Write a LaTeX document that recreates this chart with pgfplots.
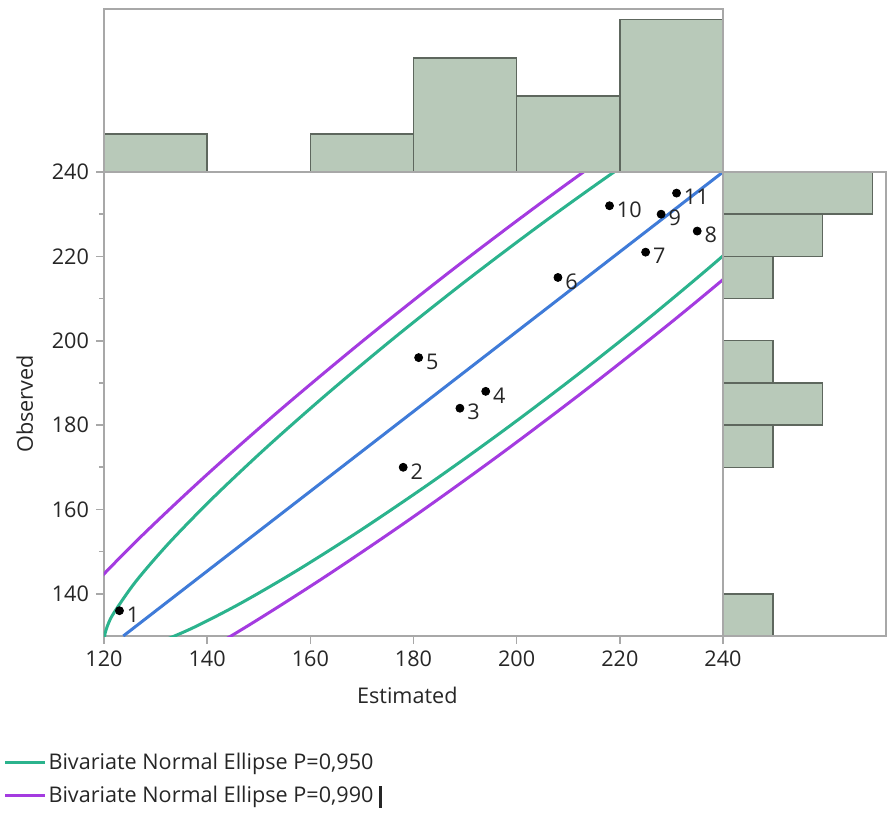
\documentclass[border=0pt]{standalone}
\usepackage{fontspec}
\setmainfont{Open Sans}
\usepackage{pgfplots}
\pgfplotsset{compat=1.18}

\definecolor{framegray}{HTML}{A8A8A8}
\definecolor{histfill}{HTML}{B8C9B9}
\definecolor{histedge}{HTML}{5E675E}
\definecolor{ell95}{HTML}{2BB38D}
\definecolor{ell99}{HTML}{A43BE0}
\definecolor{fitblue}{HTML}{3F7BD8}
\definecolor{txt}{HTML}{262626}

\newcommand{\chartfont}{\fontsize{10.8}{13}\selectfont}

\pgfplotsset{
  panel/.style={
    scale only axis, enlargelimits=false,
    axis line style={framegray, line width=0.8pt},
  },
}

% observed vs estimated
\pgfplotstableread{
x      y    lab
123    136  1
178    170  2
189    184  3
194    188  4
181    196  5
208    215  6
225    221  7
235    226  8
228    230  9
218    232  10
231    235  11
}\pts

\begin{document}
\begin{tikzpicture}[font=\chartfont]
\useasboundingbox (-52pt,-90pt) rectangle (392.5pt,318pt);

% main scatter
\begin{axis}[panel,
  at={(0,0)}, anchor=south west,
  width=309.5pt, height=232pt,
  xmin=120, xmax=240, ymin=130, ymax=240,
  xtick={120,140,...,240}, ytick={140,160,...,240},
  minor y tick num=1,
  xtick pos=bottom, ytick pos=left,
  tick align=outside, major tick length=4pt, minor tick length=2.5pt,
  every tick/.style={framegray, line width=0.8pt},
  tick label style={text=txt, font=\chartfont},
  /pgf/number format/assume math mode=true,
  xlabel={Estimated}, ylabel={Observed},
  xlabel style={text=txt, at={(axis description cs:0.49,-0.127)}, anchor=center},
  ylabel style={text=txt, at={(axis description cs:-0.128,0.5)}, anchor=center},
  legend style={at={(axis description cs:-0.163,-0.243)}, anchor=north west,
    draw=none, fill=none, inner sep=0pt, row sep=2.5pt,
    nodes={inner xsep=1pt},
    font=\chartfont, text=txt},
  legend cell align=left,
  legend image code/.code={\draw[#1, line width=1.5pt] (0pt,0pt) -- (20pt,0pt);},
]
\addplot[ell95, line width=1.5pt, smooth] coordinates {
  (231.74,250.66) (218.30,239.51) (204.32,227.25) (190.25,214.26)
  (176.51,200.93) (163.50,187.65) (151.62,174.84) (141.25,162.90)
  (132.69,152.17) (126.20,142.98) (121.98,135.61) (120.76,132.69)
  (120.16,130.30) (120.16,128.46) (120.79,127.19) (122.02,126.50)
  (123.86,126.39) (129.27,127.91) (136.86,131.72) (146.39,137.69)
  (157.57,145.64) (170.08,155.34) (183.52,166.49) (197.50,178.75)
  (211.57,191.74) (225.32,205.07) (238.32,218.35) (250.20,231.16)
};
\addlegendentry{Bivariate Normal Ellipse P=0,950}
\addplot[ell99, line width=1.5pt, smooth] coordinates {
  (239.14,262.09) (222.46,248.27) (205.15,233.07) (187.70,216.97)
  (170.65,200.43) (154.52,183.97) (139.80,168.09) (126.93,153.28)
  (116.33,139.98) (108.27,128.58) (103.04,119.45) (101.57,109.00)
  (112.08,109.89) (121.49,114.62) (133.31,122.02) (147.17,131.88)
  (162.68,143.91) (179.36,157.73) (196.67,172.93) (214.12,189.04)
  (231.17,205.57) (247.30,222.03) (262.02,237.91)
};
\addlegendentry{Bivariate Normal Ellipse P=0,990\ \rule[-2.5pt]{1.3pt}{11pt}}
\addplot[fitblue, line width=1.5pt, forget plot] coordinates {(123.74,130) (240,240)};
\addplot[only marks, mark=*, mark size=2pt, black, forget plot,
  nodes near coords, point meta=explicit symbolic,
  every node near coord/.style={anchor=west, inner sep=1pt, xshift=2.5pt, yshift=-2pt,
    text=txt, font=\chartfont}]
  table[x=x, y=y, meta=lab] {\pts};
\end{axis}

% top histogram (Estimated)
\begin{axis}[panel, axis on top,
  at={(0,232pt)}, anchor=south west,
  width=309.5pt, height=81.5pt,
  xmin=120, xmax=240, ymin=0, ymax=4.28,
  ticks=none,
]
\addplot[ybar interval, fill=histfill, draw=histedge, line width=0.75pt] coordinates {
  (120,1) (140,0) (160,1) (180,3) (200,2) (220,4) (240,4)
};
\end{axis}

% right histogram (Observed)
\begin{axis}[panel, axis on top,
  at={(309.5pt,0)}, anchor=south west,
  width=81.5pt, height=232pt,
  xmin=0, xmax=3.27, ymin=130, ymax=240,
  ticks=none,
]
\addplot[xbar interval, fill=histfill, draw=histedge, line width=0.75pt] coordinates {
  (1,130) (0,140) (0,150) (0,160) (1,170) (2,180) (1,190) (0,200)
  (1,210) (2,220) (3,230) (3,240)
};
\end{axis}
\end{tikzpicture}
\end{document}
